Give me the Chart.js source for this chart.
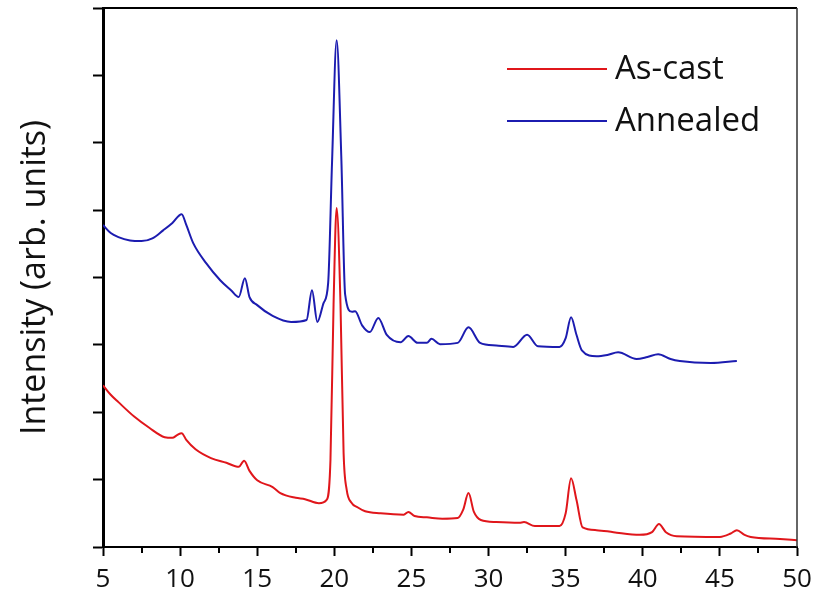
<!DOCTYPE html>
<html>
<head>
<meta charset="utf-8">
<script src="https://cdn.jsdelivr.net/npm/chart.js@4.4.1/dist/chart.umd.min.js"></script>
<style>
  html, body { margin: 0; padding: 0; background: #fff; }
  #wrap { width: 829px; height: 592px; }
</style>
</head>
<body>
<div id="wrap"><canvas id="xrd"></canvas></div>
<script>
// XRD patterns, 2-theta (deg) vs intensity (arb. units).

const castX = [5, 5.5, 6, 7, 8, 9, 9.5, 9.8, 10.1, 10.4, 11, 12, 13, 13.8, 14.15, 14.5, 15, 16, 16.5, 17.5, 18.1, 19, 19.5,
    19.75, 19.95, 20.15, 20.4, 20.6, 20.8, 21.1, 21.5, 22, 23, 24.5, 24.8, 25.2, 26, 27, 28, 28.35, 28.7, 29.05, 29.5,
    30.5, 32, 32.3, 33, 34.6, 35.0, 35.35, 35.7, 36.1, 37, 38.1, 39.8, 40.6, 41.05, 41.5, 42.2, 45, 45.7, 46.1, 46.6, 47, 48.9, 50];
const castY = [2.40, 2.26, 2.15, 1.94, 1.77, 1.63, 1.62, 1.66, 1.69, 1.59, 1.45, 1.32, 1.25, 1.19, 1.28, 1.13, 0.99, 0.89, 0.80, 0.73, 0.71, 0.65, 0.70,
    1.3, 3.6, 5.03, 3.6, 1.4, 0.85, 0.66, 0.59, 0.53, 0.50, 0.48, 0.52, 0.46, 0.44, 0.42, 0.43, 0.55, 0.80, 0.52, 0.40,
    0.37, 0.36, 0.37, 0.31, 0.31, 0.50, 1.02, 0.70, 0.29, 0.25, 0.22, 0.18, 0.22, 0.34, 0.22, 0.16, 0.15, 0.20, 0.25, 0.18, 0.15, 0.12, 0.10];

const annealX = [5, 5.5, 6, 6.75, 7.5, 8.2, 8.9, 9.5, 10.1, 10.4, 10.85, 11.7, 12.6, 13.3, 13.8, 14.2, 14.5, 15, 16, 17.2, 18.2,
    18.55, 18.9, 19.3, 19.6, 19.85, 20.15, 20.45, 20.7, 21.15, 21.35, 21.8, 22.3, 22.85, 23.4, 24.3, 24.8, 25.4, 26.0, 26.3,
    26.85, 28.0, 28.7, 29.45, 30.5, 31.6, 32.5, 33.2, 34.6, 35.0, 35.35, 35.7, 36.05, 37.0, 37.7, 38.4, 39.6, 40.3, 41.0,
    41.8, 42.4, 44.4, 46.1];
const annealY = [4.78, 4.66, 4.60, 4.55, 4.54, 4.58, 4.70, 4.81, 4.94, 4.78, 4.51, 4.21, 3.96, 3.81, 3.71, 3.99, 3.71, 3.59, 3.43, 3.34, 3.37,
    3.81, 3.34, 3.62, 3.92, 5.7, 7.52, 5.8, 3.75, 3.49, 3.50, 3.29, 3.19, 3.40, 3.15, 3.04, 3.13, 3.03, 3.03, 3.09,
    3.01, 3.03, 3.26, 3.03, 2.99, 2.97, 3.15, 2.98, 2.97, 3.10, 3.41, 3.15, 2.92, 2.83, 2.85, 2.89, 2.79, 2.82, 2.86,
    2.79, 2.76, 2.73, 2.76];

const SERIES_LABELS = ['As-cast', 'Annealed'];
const MINOR_TICKS = [7.5, 12.5, 17.5, 22.5, 27.5, 32.5, 37.5, 42.5, 47.5];

const FONT = "'Open Sans', 'Noto Sans', sans-serif";

const toPoints = (xs, ys) => xs.map((x, i) => ({ x, y: ys[i] }));

// frame (top / right), minor x ticks, and the legend inside the plot
const framePlugin = {
    id: 'frame',
    afterDraw(chart) {
        const { ctx, chartArea: a, scales } = chart;
        ctx.save();
        ctx.strokeStyle = '#000';
        ctx.lineWidth = 2;
        ctx.beginPath();
        ctx.moveTo(a.left, a.top); ctx.lineTo(a.right, a.top);
        ctx.stroke();
        ctx.strokeStyle = '#333';
        ctx.lineWidth = 1.5;
        ctx.beginPath();
        ctx.moveTo(a.right, a.top); ctx.lineTo(a.right, a.bottom);
        ctx.stroke();

        ctx.strokeStyle = '#000';
        ctx.lineWidth = 2;
        MINOR_TICKS.forEach(v => {
            const px = Math.round(scales.x.getPixelForValue(v));
            ctx.beginPath();
            ctx.moveTo(px, a.bottom); ctx.lineTo(px, a.bottom + 6);
            ctx.stroke();
        });

        ctx.font = '33px ' + FONT;
        ctx.textBaseline = 'middle';
        ctx.fillStyle = '#111';
        chart.data.datasets.forEach((ds, i) => {
            const y = 69 + i * 52;
            ctx.strokeStyle = ds.borderColor;
            ctx.lineWidth = 2;
            ctx.beginPath();
            ctx.moveTo(507, y); ctx.lineTo(607, y);
            ctx.stroke();
            ctx.fillText(ds.label, 615, y + 1);
        });
        ctx.restore();
    }
};

new Chart(document.getElementById('xrd').getContext('2d'), {
    type: 'line',
    data: {
        datasets: [
            { label: SERIES_LABELS[0], data: toPoints(castX, castY),
              borderColor: '#e0161b', borderWidth: 2, pointRadius: 0, cubicInterpolationMode: 'monotone' },
            { label: SERIES_LABELS[1], data: toPoints(annealX, annealY),
              borderColor: '#1c1cb0', borderWidth: 2, pointRadius: 0, cubicInterpolationMode: 'monotone' }
        ]
    },
    options: {
        responsive: true, maintainAspectRatio: false, animation: false,
        layout: { padding: { top: 8, right: 32, left: 0, bottom: 0 } },
        plugins: { legend: { display: false }, tooltip: { enabled: false } },
        scales: {
            x: {
                type: 'linear', min: 5, max: 50,
                afterFit: s => { s.height = 45; },
                border: { color: '#000', width: 2 },
                grid: { drawOnChartArea: false, drawTicks: true, tickLength: 9, tickColor: '#000', tickWidth: 2 },
                ticks: { stepSize: 5, color: '#111', padding: 8, maxRotation: 0, font: { family: FONT, size: 26 } }
            },
            y: {
                min: 0, max: 8,
                afterFit: s => { s.width = 103; },
                border: { color: '#000', width: 3 },
                grid: { drawOnChartArea: false, drawTicks: true, tickLength: 10, tickColor: '#000', tickWidth: 2 },
                ticks: { stepSize: 1, display: false },
                title: { display: true, text: 'Intensity (arb. units)', color: '#111',
                         font: { family: FONT, size: 34 }, padding: { top: 15, bottom: 0 } }
            }
        }
    },
    plugins: [framePlugin]
});
</script>
</body>
</html>
